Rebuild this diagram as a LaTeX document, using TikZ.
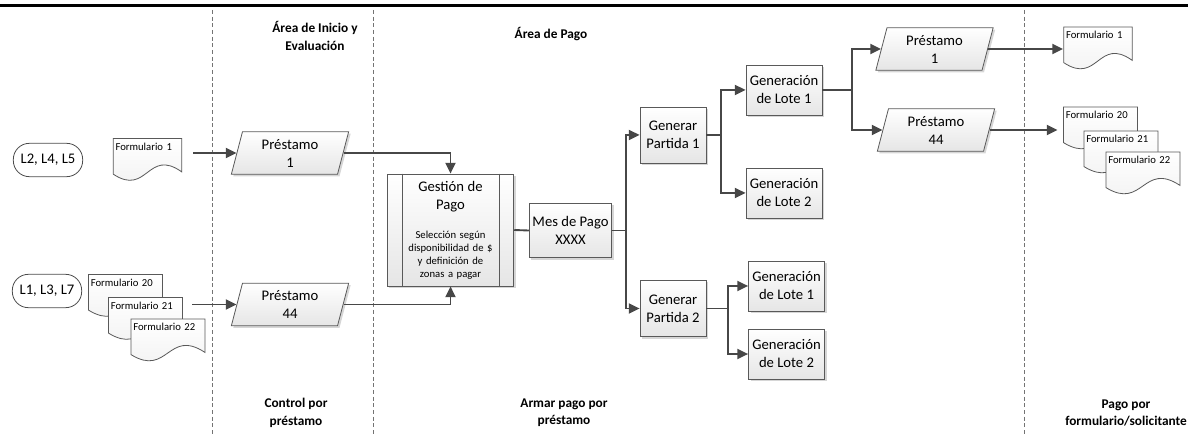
\documentclass[tikz,border=0pt]{standalone}
\usepackage{fontspec}
\setmainfont{Carlito}
\usetikzlibrary{shapes.geometric,shadows,calc,arrows.meta}

\begin{document}
\begin{tikzpicture}[x=0.75pt, y=-0.75pt, every node/.style={
	align=center
	, font=\fontsize{11}{13.5}\selectfont
}
, flow/.style={draw=black!72, line width=1.4pt}
, arr/.style={flow, -{Triangle[length=8pt, width=7.5pt]}}
, lane/.style={draw=black!55, line width=0.6pt, dash pattern=on 3pt off 2pt}
, hdr/.style={font=\bfseries\fontsize{10}{13}\selectfont}
, box/.style={rectangle, draw=black!65, line width=0.6pt, top color=white, bottom color=black!10
	, drop shadow={shadow xshift=1.5pt, shadow yshift=-1.5pt, fill=black!40, opacity=.4}, inner sep=1pt}
, loan/.style={box, trapezium, trapezium left angle=70, trapezium right angle=110
	, trapezium stretches body, minimum width=88pt, minimum height=32pt}
, term/.style={rectangle, rounded corners=12pt, draw=black!70, line width=0.6pt
	, minimum width=52pt, minimum height=25pt}
, doc/.style={rectangle, inner sep=2pt, text width=#1, align=left
	, font=\fontsize{8}{9}\selectfont, text height=7pt, text depth=21pt
	, path picture={
		\coordinate (nw) at (path picture bounding box.north west);
		\coordinate (ne) at (path picture bounding box.north east);
		\coordinate (sw) at (path picture bounding box.south west);
		\coordinate (se) at (path picture bounding box.south east);
		\draw[draw=black!65, line width=0.6pt, top color=white, bottom color=black!6]
			([shift={(0.3pt,-0.3pt)}]nw) -- ([shift={(-0.3pt,-0.3pt)}]ne)
			-- ([shift={(-0.3pt,6.7pt)}]se)
			.. controls ($(sw)!0.5!(se)+(0,25pt)$) and ($(sw)!0.5!(se)+(0,-12pt)$)
			.. ([shift={(0.3pt,5pt)}]sw) -- cycle;
	}}
, doc/.default=48pt
]
\useasboundingbox (0,0) rectangle (1198,434);

% lanes
\draw[line width=2.6pt] (0,5.5) -- (1188,5.5);
\foreach \x in {212,373,1024}{
	\draw[lane] (\x,10) -- (\x,434);
}

\node[hdr](h1) at(315,36) {Área de Inicio y\\Evaluación};
\node[hdr](h2) at(551,34) {Área de Pago};
\node[hdr](h3) at(296,413) {Control por\\préstamo};
\node[hdr](h4) at(564,413) {Armar pago por\\préstamo};
\node[hdr](h5) at(1126,413) {Pago por\\formulario/solicitante};

% inputs
\node[term](t1) at(48,160) {L2, L4, L5};
\node[term](t2) at(47,291) {L1, L3, L7};
\node[doc](f1) at(147.5,159.5) {Formulario 1};
\foreach \x \y \n in {125.5/295.5/20, 145.5/318.5/21, 168/340/22}{
	\node[doc=52pt](f\n) at(\x,\y) {Formulario \n};
}

\node[loan](p1l) at(290,153) {Préstamo\\1};
\node[loan](p44l) at(290,304.5) {Préstamo\\44};

\node[box, minimum width=95pt, minimum height=84pt, text width=70pt
	, font=\fontsize{8}{9.75}\selectfont](g) at(450.5,230)
	{{\fontsize{11}{13.5}\selectfont Gestión de\\Pago\par}\vspace{12pt}%
	Selección según\\disponibilidad de \$\\y definición de\\zonas a pagar};
\draw[draw=black!65, line width=0.6pt] ([xshift=12pt]g.north west) -- ([xshift=12pt]g.south west);
\draw[draw=black!65, line width=0.6pt] ([xshift=-11pt]g.north east) -- ([xshift=-11pt]g.south east);

\node[box, minimum width=62pt, minimum height=41pt](mes) at(570.5,230.5) {Mes de Pago\\XXXX};
\node[box, minimum width=49.5pt, minimum height=42pt](pa1) at(673,135) {Generar\\Partida 1};
\node[box, minimum width=49.5pt, minimum height=42pt](pa2) at(673,308.5) {Generar\\Partida 2};

\foreach \x \y \name \k in {784/90/a1/1, 784/193/a2/2, 786.5/286/b1/1, 786.5/354/b2/2}{
	\node[box, minimum width=57pt, minimum height=37.5pt](\name) at(\x,\y) {Generación\\de Lote \k};
}

% outputs
\node[loan](p1r) at(934.5,49) {Préstamo\\1};
\node[loan](p44r) at(936,130) {Préstamo\\44};
\node[doc](r1) at(1098,48) {Formulario 1};
\foreach \x \y \n in {1100.5/128/20, 1121/152/21, 1143/173/22}{
	\node[doc=52pt](r\n) at(\x,\y) {Formulario \n};
}

% connectors
\draw[arr, shorten <=8pt] (f1.east |- p1l.west) -- (p1l.west);
\draw[arr, shorten <=7pt] (f21.east |- p44l.west) -- (p44l.west);
\draw[arr] (p1l.east) -| (g.north);
\draw[arr] (p44l.east) -| (g.south);
\draw[flow] (g.east) -- (mes.west);
\foreach \j in {pa1,pa2}{
	\draw[arr] (mes.east) -- ++(10.5pt,0) |- (\j);
}
\foreach \j in {a1,a2}{
	\draw[arr] (pa1.east) -- ++(11pt,0) |- (\j);
}
\foreach \j in {b1,b2}{
	\draw[arr] (pa2.east) -- ++(16.5pt,0) |- (\j);
}
\foreach \j in {p1r,p44r}{
	\draw[arr] (a1.east) -- ++(22.5pt,0) |- (\j);
}
\draw[arr] (p1r.east) -- (p1r.east -| r1.west);
\draw[arr, shorten >=4pt] (p44r.east) -- (p44r.east -| r20.west);

\end{tikzpicture}
\end{document}
